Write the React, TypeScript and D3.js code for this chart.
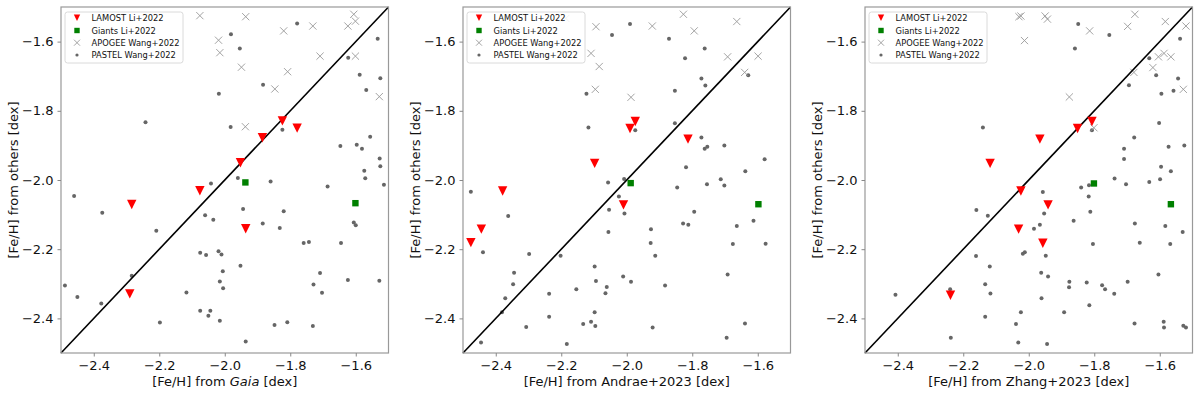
import React, { useRef, useEffect } from 'react';
import * as d3 from 'd3';

type Pt = [number, number];

// panel 1 : Gaia
const gaiaLamost: Pt[] = [[-2.076, -2.031], [-1.952, -1.95], [-1.885, -1.878], [-1.824, -1.829], [-1.779, -1.85], [-2.284, -2.071], [-2.29, -2.329], [-1.936, -2.141]];
const gaiaGiants: Pt[] = [[-1.937, -2.007], [-1.601, -2.067]];
const gaiaApogee: Pt[] = [[-2.076, -1.525], [-1.936, -1.528], [-2.019, -1.596], [-2.015, -1.632], [-1.949, -1.674], [-1.82, -1.569], [-1.731, -1.555], [-1.606, -1.521], [-1.601, -1.541], [-1.624, -1.555], [-1.709, -1.642], [-1.601, -1.642], [-1.808, -1.687], [-1.847, -1.737], [-1.528, -1.759], [-1.937, -1.846]];
const gaiaPastel: Pt[] = [[-2.242, -1.833], [-2.46, -2.046], [-1.981, -1.579], [-1.779, -1.548], [-1.954, -1.62], [-1.533, -1.592], [-1.623, -1.647], [-1.588, -1.696], [-1.525, -1.706], [-1.883, -1.725], [-2.018, -1.751], [-1.568, -1.74], [-1.982, -1.847], [-1.824, -1.855], [-1.556, -1.875], [-1.647, -1.902], [-1.597, -1.898], [-1.581, -1.91], [-1.527, -1.938], [-1.525, -1.96], [-1.574, -1.973], [-1.571, -1.995], [-1.514, -2.014], [-1.686, -2.019], [-1.86, -2.004], [-1.96, -1.994], [-2.042, -2.01], [-2.374, -2.095], [-2.209, -2.147], [-2.284, -2.277], [-2.488, -2.305], [-2.45, -2.338], [-2.377, -2.357], [-2.117, -2.325], [-2.198, -2.412], [-1.944, -2.084], [-1.82, -2.09], [-2.06, -2.102], [-2.035, -2.115], [-1.606, -2.123], [-1.6, -2.131], [-1.884, -2.126], [-1.832, -2.139], [-1.759, -2.182], [-1.743, -2.179], [-1.645, -2.182], [-2.075, -2.21], [-2.057, -2.217], [-2.019, -2.206], [-2.01, -2.215], [-1.952, -2.248], [-2.006, -2.264], [-2.015, -2.293], [-2.005, -2.313], [-1.709, -2.269], [-1.729, -2.302], [-1.703, -2.326], [-1.624, -2.289], [-1.528, -2.291], [-2.075, -2.378], [-2.044, -2.378], [-2.05, -2.392], [-2.015, -2.407], [-1.848, -2.419], [-1.809, -2.411], [-1.731, -2.422], [-1.936, -2.467]];

// panel 2 : Andrae+2023
const andraeLamost: Pt[] = [[-2.098, -1.952], [-2.379, -2.032], [-1.974, -1.831], [-1.99, -1.851], [-1.813, -1.882], [-2.444, -2.142], [-2.476, -2.181], [-2.01, -2.072]];
const andraeGiants: Pt[] = [[-1.988, -2.009], [-1.598, -2.07]];
const andraeApogee: Pt[] = [[-2.186, -1.533], [-2.094, -1.557], [-2.109, -1.634], [-2.084, -1.672], [-2.096, -1.738], [-1.922, -1.555], [-1.827, -1.521], [-1.794, -1.569], [-1.664, -1.542], [-1.692, -1.644], [-1.599, -1.642], [-1.64, -1.689], [-1.987, -1.761]];
const andraePastel: Pt[] = [[-2.123, -1.751], [-2.117, -1.848], [-2.476, -2.034], [-1.99, -1.549], [-2.045, -1.581], [-1.871, -1.592], [-1.762, -1.62], [-1.822, -1.648], [-1.629, -1.697], [-1.772, -1.707], [-1.76, -1.727], [-1.853, -1.742], [-1.853, -1.836], [-1.974, -1.856], [-1.772, -1.877], [-1.754, -1.904], [-1.762, -1.91], [-1.702, -1.9], [-1.579, -1.94], [-1.819, -1.963], [-1.638, -1.975], [-2.057, -2.007], [-2.008, -1.997], [-1.713, -1.998], [-1.755, -2.012], [-1.702, -2.016], [-1.846, -2.022], [-2.024, -2.048], [-2.362, -2.104], [-2.439, -2.209], [-2.298, -2.214], [-2.202, -2.219], [-2.344, -2.268], [-2.347, -2.301], [-2.371, -2.342], [-2.381, -2.382], [-2.237, -2.329], [-2.154, -2.316], [-2.237, -2.395], [-2.307, -2.425], [-2.133, -2.416], [-2.109, -2.41], [-2.096, -2.422], [-2.098, -2.25], [-2.094, -2.292], [-2.098, -2.382], [-2.183, -2.474], [-2.445, -2.47], [-2.054, -2.086], [-2.007, -2.097], [-1.794, -2.092], [-1.828, -2.126], [-1.812, -2.129], [-1.926, -2.142], [-2.056, -2.15], [-1.664, -2.133], [-1.613, -2.118], [-1.927, -2.182], [-1.676, -2.185], [-1.576, -2.184], [-1.913, -2.219], [-2.011, -2.279], [-1.987, -2.294], [-2.061, -2.309], [-2.065, -2.327], [-1.883, -2.305], [-1.692, -2.273], [-1.921, -2.426], [-1.639, -2.415], [-1.695, -2.456]];

// panel 3 : Zhang+2023
const zhangLamost: Pt[] = [[-2.118, -1.952], [-1.807, -1.831], [-1.851, -1.851], [-1.966, -1.882], [-2.024, -2.032], [-2.239, -2.333], [-1.941, -2.072], [-2.031, -2.142], [-1.957, -2.183]];
const zhangGiants: Pt[] = [[-1.801, -2.01], [-1.566, -2.07]];
const zhangApogee: Pt[] = [[-2.03, -1.528], [-2.024, -1.526], [-1.95, -1.526], [-1.943, -1.535], [-2.013, -1.597], [-1.814, -1.569], [-1.698, -1.556], [-1.676, -1.521], [-1.583, -1.542], [-1.52, -1.555], [-1.604, -1.644], [-1.587, -1.634], [-1.566, -1.644], [-1.621, -1.675], [-1.679, -1.689], [-1.528, -1.738], [-1.876, -1.76], [-1.801, -1.849]];
const zhangPastel: Pt[] = [[-2.14, -1.848], [-1.849, -1.549], [-1.754, -1.581], [-1.538, -1.592], [-1.859, -1.62], [-1.632, -1.648], [-1.611, -1.697], [-1.544, -1.707], [-1.694, -1.726], [-1.558, -1.742], [-1.595, -1.751], [-1.602, -1.835], [-1.807, -1.856], [-1.678, -1.877], [-1.573, -1.904], [-1.525, -1.9], [-1.709, -1.91], [-1.709, -1.939], [-1.596, -1.962], [-1.566, -1.975], [-1.738, -1.996], [-1.703, -2.012], [-1.632, -2.006], [-1.599, -1.998], [-1.84, -2.022], [-1.816, -2.015], [-1.957, -2.035], [-1.817, -2.048], [-2.16, -2.087], [-2.125, -2.103], [-2.161, -2.22], [-2.119, -2.25], [-2.133, -2.301], [-2.117, -2.328], [-2.133, -2.395], [-2.24, -2.316], [-2.407, -2.332], [-2.238, -2.456], [-1.953, -2.097], [-1.812, -2.092], [-1.863, -2.118], [-1.966, -2.129], [-1.984, -2.141], [-1.676, -2.126], [-1.583, -2.133], [-1.53, -2.15], [-1.804, -2.185], [-1.661, -2.181], [-1.568, -2.185], [-2.018, -2.213], [-2.012, -2.209], [-1.948, -2.219], [-1.962, -2.268], [-1.941, -2.279], [-1.876, -2.294], [-1.877, -2.31], [-1.823, -2.296], [-1.776, -2.304], [-1.767, -2.316], [-1.739, -2.329], [-1.698, -2.294], [-1.604, -2.273], [-1.961, -2.342], [-1.815, -2.362], [-2.024, -2.382], [-1.892, -2.382], [-2.039, -2.416], [-1.677, -2.415], [-1.588, -2.41], [-1.587, -2.426], [-1.528, -2.421], [-1.52, -2.426], [-2.032, -2.47], [-1.944, -2.474]];

const tickValues = [-2.4, -2.2, -2.0, -1.8, -1.6];
const legendLabels = ['LAMOST Li+2022', 'Giants Li+2022', 'APOGEE Wang+2022', 'PASTEL Wang+2022'];
const xLabels: [string, string, string][] = [
  ['[Fe/H] from ', 'Gaia', ' [dex]'],
  ['[Fe/H] from Andrae+2023 [dex]', '', ''],
  ['[Fe/H] from Zhang+2023 [dex]', '', ''],
];

const panels = [
  { left: 61, lamost: gaiaLamost, giants: gaiaGiants, apogee: gaiaApogee, pastel: gaiaPastel },
  { left: 463, lamost: andraeLamost, giants: andraeGiants, apogee: andraeApogee, pastel: andraePastel },
  { left: 865, lamost: zhangLamost, giants: zhangGiants, apogee: zhangApogee, pastel: zhangPastel },
];

const FONT = 'DejaVu Sans, sans-serif';
const TOP = 7;
const BOTTOM = 353;
const W = 327.5;

const tri = (s: number) => `M${-s},${-s}L${s},${-s}L0,${s}Z`;
const cross = (s: number) => `M${-s},${-s}L${s},${s}M${-s},${s}L${s},${-s}`;

function App() {
  const svgRef = useRef<SVGSVGElement>(null);

  useEffect(() => {
    const svg = d3.select(svgRef.current);
    svg.selectAll('*').remove();
    const fmt = d3.format('.1f');

    panels.forEach((p, i) => {
      const x = d3.scaleLinear().domain([-2.5, -1.5]).range([p.left, p.left + W]);
      const y = d3.scaleLinear().domain([-2.5, -1.5]).range([BOTTOM, TOP]);
      const g = svg.append('g');

      // pastel dots
      g.selectAll('.pastel')
        .data(p.pastel)
        .join('circle')
        .attr('cx', (d) => x(d[0]))
        .attr('cy', (d) => y(d[1]))
        .attr('r', 2)
        .attr('fill', '#666');

      // apogee crosses
      g.selectAll('.apogee')
        .data(p.apogee)
        .join('path')
        .attr('d', cross(3.6))
        .attr('transform', (d) => `translate(${x(d[0])},${y(d[1])})`)
        .attr('stroke', '#999')
        .attr('stroke-width', 0.9)
        .attr('fill', 'none');

      // 1:1 line
      g.append('line')
        .attr('x1', x(-2.5))
        .attr('y1', y(-2.5))
        .attr('x2', x(-1.5))
        .attr('y2', y(-1.5))
        .attr('stroke', '#000')
        .attr('stroke-width', 1.6);

      g.selectAll('.lamost')
        .data(p.lamost)
        .join('path')
        .attr('d', tri(4.7))
        .attr('transform', (d) => `translate(${x(d[0])},${y(d[1])})`)
        .attr('fill', '#ff0000');

      g.selectAll('.giants')
        .data(p.giants)
        .join('rect')
        .attr('x', (d) => x(d[0]) - 3.2)
        .attr('y', (d) => y(d[1]) - 3.2)
        .attr('width', 6.4)
        .attr('height', 6.4)
        .attr('fill', '#008000');

      // frame
      g.append('rect')
        .attr('x', p.left)
        .attr('y', TOP)
        .attr('width', W)
        .attr('height', BOTTOM - TOP)
        .attr('fill', 'none')
        .attr('stroke', '#999')
        .attr('stroke-width', 1.2);

      // axes
      const xa = g.append('g').attr('transform', `translate(0,${BOTTOM})`)
        .call(d3.axisBottom(x).tickValues(tickValues).tickFormat((v) => fmt(v as number)).tickSize(3.5).tickPadding(4));
      const ya = g.append('g').attr('transform', `translate(${p.left},0)`)
        .call(d3.axisLeft(y).tickValues(tickValues).tickFormat((v) => fmt(v as number)).tickSize(3.5).tickPadding(4));
      [xa, ya].forEach((a) => {
        a.select('.domain').remove();
        a.selectAll('line').attr('stroke', '#888');
        a.selectAll('text').attr('font-family', FONT).attr('font-size', 13).attr('fill', '#111');
      });

      // axis labels
      const [a, b, c] = xLabels[i];
      const xl = g.append('text')
        .attr('x', p.left + W / 2)
        .attr('y', 386)
        .attr('text-anchor', 'middle')
        .attr('font-family', FONT)
        .attr('font-size', 13)
        .attr('fill', '#111');
      xl.append('tspan').text(a);
      if (b) xl.append('tspan').attr('font-style', 'italic').text(b);
      if (c) xl.append('tspan').text(c);

      g.append('text')
        .attr('transform', `translate(${p.left - 48},${(TOP + BOTTOM) / 2}) rotate(-90)`)
        .attr('text-anchor', 'middle')
        .attr('dominant-baseline', 'central')
        .attr('font-family', FONT)
        .attr('font-size', 13)
        .attr('fill', '#111')
        .text('[Fe/H] from others [dex]');

      // legend
      const lg = g.append('g').attr('transform', `translate(${p.left + 4},12)`);
      lg.append('rect')
        .attr('width', 118)
        .attr('height', 51)
        .attr('rx', 2.5)
        .attr('fill', 'white')
        .attr('fill-opacity', 0.85)
        .attr('stroke', '#d0d0d0')
        .attr('stroke-width', 0.8);
      const rowY = [5.7, 18.5, 30.7, 43];
      lg.selectAll('.lbl')
        .data(legendLabels)
        .join('text')
        .attr('x', 26.5)
        .attr('y', (d, k) => rowY[k] + 3)
        .attr('font-family', FONT)
        .attr('font-size', 8.3)
        .attr('fill', '#111')
        .text((d) => d);
      lg.append('path').attr('d', tri(3.2)).attr('transform', `translate(12,${rowY[0]})`).attr('fill', '#ff0000');
      lg.append('rect').attr('x', 9.3).attr('y', rowY[1] - 2.7).attr('width', 5.4).attr('height', 5.4).attr('fill', '#008000');
      lg.append('path').attr('d', cross(3)).attr('transform', `translate(12,${rowY[2]})`)
        .attr('stroke', '#999').attr('stroke-width', 0.9).attr('fill', 'none');
      lg.append('circle').attr('cx', 12).attr('cy', rowY[3]).attr('r', 1.6).attr('fill', '#666');
    });
  }, []);

  return (
    <div className='root'>
      <svg ref={svgRef} width={1200} height={396} style={{ position: 'absolute', left: 0, top: 0, background: 'white' }}></svg>
    </div>
  );
}

export default App;
